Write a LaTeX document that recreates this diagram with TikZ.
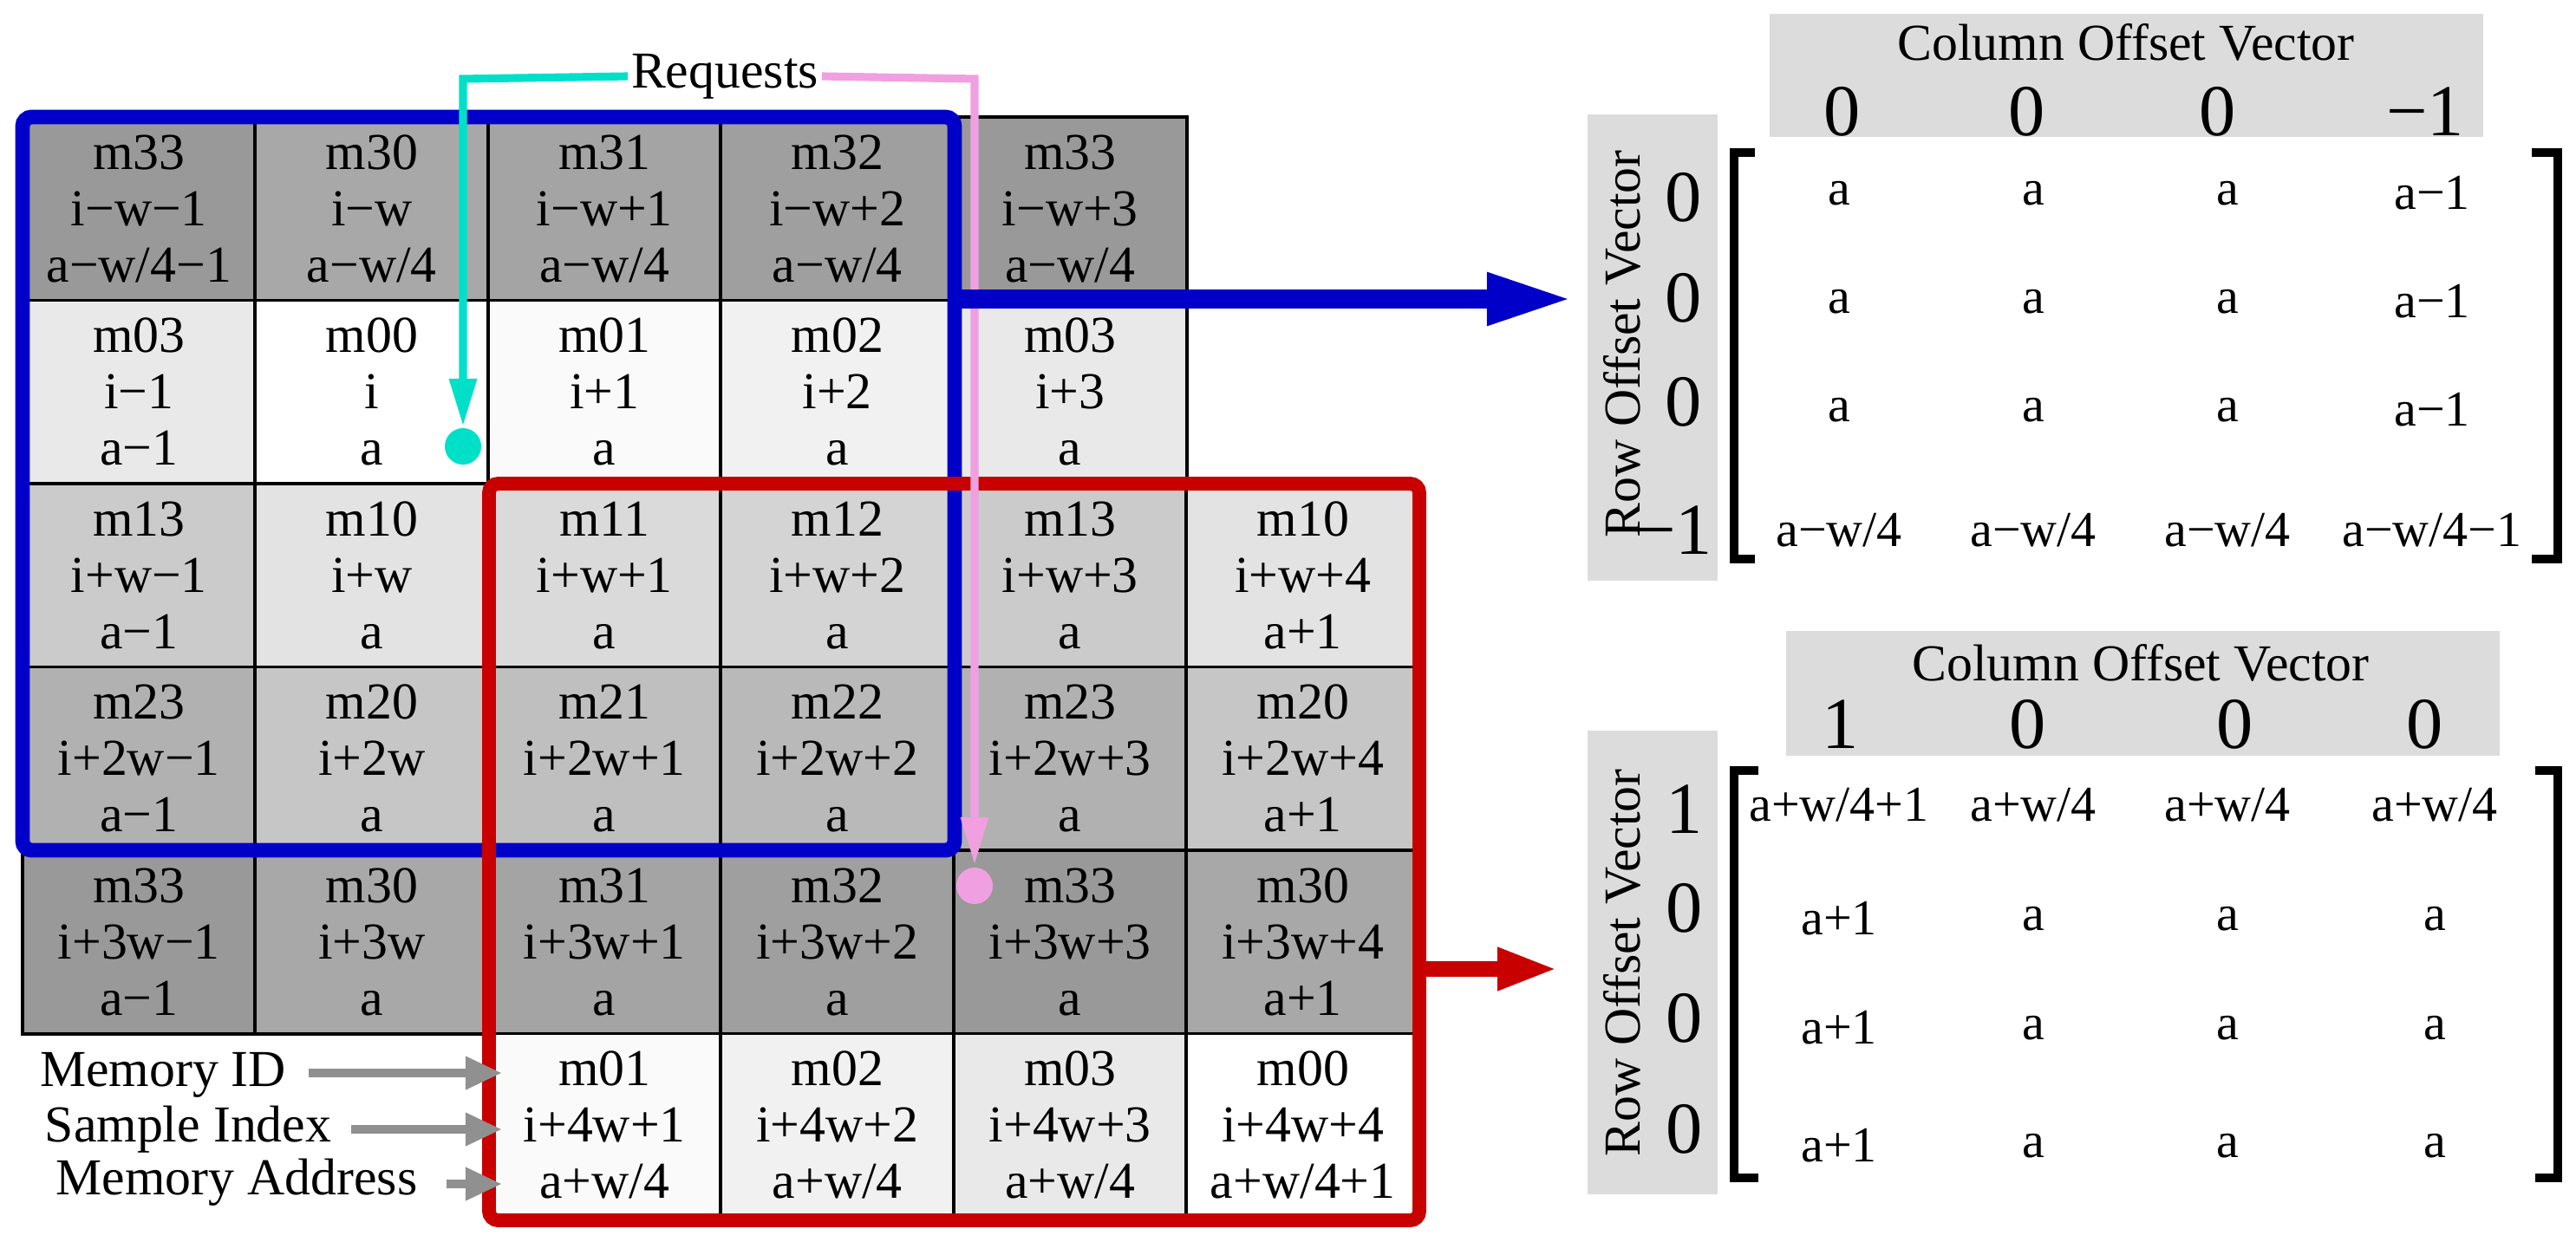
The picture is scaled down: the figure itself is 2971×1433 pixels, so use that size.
\documentclass[tikz,border=0pt]{standalone}
\usepackage{fontspec}
\setmainfont{Liberation Serif}
\usetikzlibrary{arrows.meta}
\definecolor{cyanreq}{HTML}{00E0C8}
\definecolor{pinkreq}{HTML}{F0A0E0}
\definecolor{bluebox}{HTML}{0000C8}
\definecolor{redbox}{HTML}{C80000}
\definecolor{hdr}{HTML}{DCDCDC}
\definecolor{gar}{HTML}{909090}
\definecolor{mA}{HTML}{FFFFFF}\definecolor{mB}{HTML}{FAFAFA}\definecolor{mC}{HTML}{F1F1F1}\definecolor{mD}{HTML}{E9E9E9}
\definecolor{mE}{HTML}{E3E3E3}\definecolor{mF}{HTML}{DADADA}\definecolor{mG}{HTML}{D4D4D4}\definecolor{mH}{HTML}{CBCBCB}
\definecolor{mI}{HTML}{C6C6C6}\definecolor{mJ}{HTML}{BFBFBF}\definecolor{mK}{HTML}{B9B9B9}\definecolor{mL}{HTML}{B1B1B1}
\definecolor{mM}{HTML}{A8A8A8}\definecolor{mN}{HTML}{A4A4A4}\definecolor{mO}{HTML}{9F9F9F}\definecolor{mP}{HTML}{999999}
\newcommand\cc[7]{\node[cell,fill=#4] (#1) at ({26+268.5*(#2-0.5)},{135+211.5*(#3-0.5)}) {#5\\#6\\#7};}
\begin{document}
\begin{tikzpicture}[x=0.01cm,y=-0.01cm,
  cell/.style={draw=black,line width=1.1pt,minimum width=2.685cm,minimum height=2.115cm,inner sep=0pt,align=center,
    font=\fontsize{17}{18.5}\selectfont},
  lbl/.style={font=\fontsize{17}{18.5}\selectfont,inner sep=1pt},
  ent/.style={font=\fontsize{16.5}{18}\selectfont,inner sep=0pt},
  big/.style={font=\fontsize{24}{26}\selectfont,inner sep=0pt},
  hbox/.style={fill=hdr,inner sep=0pt},
  garrow/.style={gar,line width=2.8pt,-{Triangle[length=0.42cm,width=0.36cm]}},
  reqline/.style={line width=2.6pt,-{Triangle[length=0.55cm,width=0.3cm]}},
  brk/.style={line width=2.6pt}]
\useasboundingbox (0,0) rectangle (2971,1433);
% row 1
\cc{c11}{1}{1}{mP}{m33}{i−w−1}{a−w/4−1}
\cc{c12}{2}{1}{mM}{m30}{i−w}{a−w/4}
\cc{c13}{3}{1}{mN}{m31}{i−w+1}{a−w/4}
\cc{c14}{4}{1}{mO}{m32}{i−w+2}{a−w/4}
\cc{c15}{5}{1}{mP}{m33}{i−w+3}{a−w/4}
% row 2
\cc{c21}{1}{2}{mD}{m03}{i−1}{a−1}
\cc{c22}{2}{2}{mA}{m00}{i}{a}
\cc{c23}{3}{2}{mB}{m01}{i+1}{a}
\cc{c24}{4}{2}{mC}{m02}{i+2}{a}
\cc{c25}{5}{2}{mD}{m03}{i+3}{a}
% row 3
\cc{c31}{1}{3}{mH}{m13}{i+w−1}{a−1}
\cc{c32}{2}{3}{mE}{m10}{i+w}{a}
\cc{c33}{3}{3}{mF}{m11}{i+w+1}{a}
\cc{c34}{4}{3}{mG}{m12}{i+w+2}{a}
\cc{c35}{5}{3}{mH}{m13}{i+w+3}{a}
\cc{c36}{6}{3}{mE}{m10}{i+w+4}{a+1}
% row 4
\cc{c41}{1}{4}{mL}{m23}{i+2w−1}{a−1}
\cc{c42}{2}{4}{mI}{m20}{i+2w}{a}
\cc{c43}{3}{4}{mJ}{m21}{i+2w+1}{a}
\cc{c44}{4}{4}{mK}{m22}{i+2w+2}{a}
\cc{c45}{5}{4}{mL}{m23}{i+2w+3}{a}
\cc{c46}{6}{4}{mI}{m20}{i+2w+4}{a+1}
% row 5
\cc{c51}{1}{5}{mP}{m33}{i+3w−1}{a−1}
\cc{c52}{2}{5}{mM}{m30}{i+3w}{a}
\cc{c53}{3}{5}{mN}{m31}{i+3w+1}{a}
\cc{c54}{4}{5}{mO}{m32}{i+3w+2}{a}
\cc{c55}{5}{5}{mP}{m33}{i+3w+3}{a}
\cc{c56}{6}{5}{mM}{m30}{i+3w+4}{a+1}
% row 6
\cc{c63}{3}{6}{mB}{m01}{i+4w+1}{a+w/4}
\cc{c64}{4}{6}{mC}{m02}{i+4w+2}{a+w/4}
\cc{c65}{5}{6}{mD}{m03}{i+4w+3}{a+w/4}
\cc{c66}{6}{6}{mA}{m00}{i+4w+4}{a+w/4+1}
% highlight boxes
\draw[bluebox,line width=4.8pt,rounded corners=3pt] (26,135) rectangle (1101,981);
\draw[redbox,line width=4.5pt,rounded corners=3pt] (564,558) rectangle (1637,1408);
% requests
\node[lbl] (req) at (836,88) {Requests};
\coordinate (cyanend) at (534,492);
\coordinate (pinkend) at (1124,998);
\draw[reqline,cyanreq] (req.west) -- (534,91) -- (cyanend);
\draw[reqline,pinkreq] (req.east) -- (1124,91) -- (pinkend);
\node[circle,fill=cyanreq,minimum size=0.42cm,inner sep=0pt] (cdot) at (534,515) {};
\node[circle,fill=pinkreq,minimum size=0.42cm,inner sep=0pt] (pdot) at (1124,1022) {};
% big arrows
\coordinate (bfrom) at (1101,345); \coordinate (bto) at (1815,345);
\draw[bluebox,line width=6.3pt,-{Triangle[length=1cm,width=0.55cm]}] (bfrom) -- (bto);
\coordinate (rfrom) at (1637,1118); \coordinate (rto) at (1797,1118);
\draw[redbox,line width=5pt,-{Triangle[length=0.7cm,width=0.45cm]}] (rfrom) -- (rto);
% labels
\node[lbl] (lid) at (188,1240) {Memory ID};
\node[lbl] (lsi) at (217,1303) {Sample Index};
\node[lbl] (lma) at (273,1364) {Memory Address};
\coordinate (tid) at (579,1238); \coordinate (tsi) at (579,1303); \coordinate (tma) at (579,1366);
\draw[garrow] (356,1238) -- (tid);
\draw[garrow] (405,1303) -- (tsi);
\draw[garrow] (515,1366) -- (tma);
% matrix 1
\fill[hdr] (2041,16) rectangle (2864,158);
\fill[hdr] (1831,132) rectangle (1981,670);
\node[lbl] (ct1) at (2452,49) {Column Offset Vector};
\node[lbl,rotate=90] (rt1) at (1871,397) {Row Offset Vector};
\node[big] (cv11) at (2125,129) {0};
\node[big] (cv12) at (2338,129) {0};
\node[big] (cv13) at (2558,129) {0};
\node[big] (cv14) at (2797,129) {−1};
\node[big] (rv11) at (1942,228) {0};
\node[big] (rv12) at (1942,344) {0};
\node[big] (rv13) at (1942,464) {0};
\node[big] (rv14) at (1930,612) {−1};
\draw[brk] (2024,176) -- (2000,176) -- (2000,645) -- (2024,645);
\draw[brk] (2920,176) -- (2950,176) -- (2950,645) -- (2920,645);
\foreach \r/\y in {1/223,2/348,3/473}{
  \node[ent] (a\r1) at (2121,\y) {a};
  \node[ent] (a\r2) at (2345,\y) {a};
  \node[ent] (a\r3) at (2569,\y) {a};
  \node[ent] (a\r4) at (2805,\y) {a−1};}
\node[ent] (a41) at (2121,612) {a−w/4};
\node[ent] (a42) at (2345,612) {a−w/4};
\node[ent] (a43) at (2569,612) {a−w/4};
\node[ent] (a44) at (2805,612) {a−w/4−1};
% matrix 2
\fill[hdr] (2060,728) rectangle (2883,872);
\fill[hdr] (1831,843) rectangle (1981,1378);
\node[lbl] (ct2) at (2469,765) {Column Offset Vector};
\node[lbl,rotate=90] (rt2) at (1871,1111) {Row Offset Vector};
\node[big] (cv21) at (2123,836) {1};
\node[big] (cv22) at (2339,836) {0};
\node[big] (cv23) at (2578,836) {0};
\node[big] (cv24) at (2797,836) {0};
\node[big] (rv21) at (1943,934) {1};
\node[big] (rv22) at (1943,1048) {0};
\node[big] (rv23) at (1943,1175) {0};
\node[big] (rv24) at (1943,1303) {0};
\draw[brk] (2028,889) -- (2000,889) -- (2000,1359) -- (2028,1359);
\draw[brk] (2924,889) -- (2950,889) -- (2950,1359) -- (2924,1359);
\node[ent] (b11) at (2121,929) {a+w/4+1};
\node[ent] (b12) at (2345,929) {a+w/4};
\node[ent] (b13) at (2569,929) {a+w/4};
\node[ent] (b14) at (2808,929) {a+w/4};
\foreach \r/\y in {2/1060,3/1186,4/1322}{
  \node[ent] (b\r1) at (2121,\y) {a+1};
  \node[ent] (b\r2) at (2345,\y) {a};
  \node[ent] (b\r3) at (2569,\y) {a};
  \node[ent] (b\r4) at (2808,\y) {a};}
\end{tikzpicture}
\end{document}
